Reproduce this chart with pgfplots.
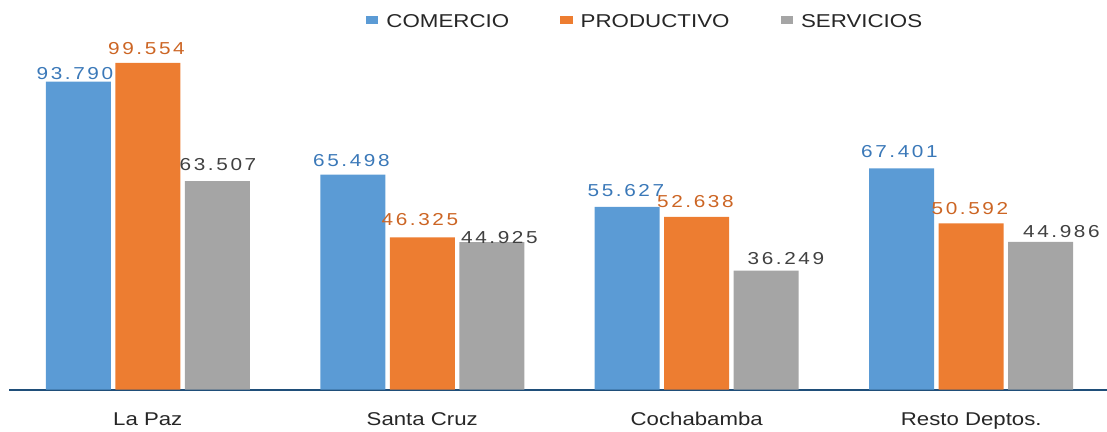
\documentclass[border=0pt]{standalone}
\usepackage{pgfplots}
\pgfplotsset{compat=1.18}
\usepackage{pgfplotstable}
\usepackage{fontspec}
\setmainfont{Liberation Sans}[FakeStretch=1.2]
\newfontfamily\lblfont{Liberation Sans}[FakeStretch=1.2,LetterSpace=15]
\definecolor{cblue}{HTML}{5B9BD5}
\definecolor{corange}{HTML}{ED7D31}
\definecolor{cgray}{HTML}{A5A5A5}
\definecolor{lblue}{HTML}{3A78B8}
\definecolor{lorange}{HTML}{CC6524}
\definecolor{lgray}{HTML}{404040}
\definecolor{axblue}{HTML}{1F4E79}
\definecolor{txt}{HTML}{262626}

\pgfplotstableread{
x y lab dx dy
0 93.790 93.790 -2 2
1 65.498 65.498 0 7.5
2 55.627 55.627 0 10
3 67.401 67.401 -1 10
}\comercio
\pgfplotstableread{
x y lab dx dy
0 99.554 99.554 0 8
1 46.325 46.325 -1 12
2 52.638 52.638 0 9
3 50.592 50.592 0 9
}\productivo
\pgfplotstableread{
x y lab dx dy
0 63.507 63.507 2 10
1 44.925 44.925 9 -2
2 36.249 36.249 21 6
3 44.986 44.986 22 4
}\servicios

\begin{document}
\begin{tikzpicture}
\useasboundingbox (-9pt,-41.5pt) rectangle (1098pt,389.5pt);
\begin{axis}[
  scale only axis,
  width=1098pt, height=389.5pt,
  at={(0,0)}, anchor=south west,
  ybar=4.5pt, bar width=65pt,
  xmin=-0.5055, xmax=3.4945,
  ymin=0, ymax=118.7,
  enlargelimits=false,
  clip=false,
  axis x line=bottom,
  axis y line=none,
  axis line style={-, draw=axblue, line width=2pt},
  xtick={0,1,2,3},
  xticklabels={La Paz, Santa Cruz, Cochabamba, Resto Deptos.},
  xtick style={draw=none},
  ytick=\empty,
  xticklabel style={anchor=base, yshift=-34pt, inner sep=0pt, text=txt, font=\fontsize{18.5}{20}\selectfont},
  legend columns=3,
  legend style={draw=none, fill=none, inner sep=0pt, outer sep=0pt,
    at={(rel axis cs:0.3251,0.9633)}, anchor=north west,
    font=\fontsize{18.6}{20}\selectfont, text=txt,
    nodes={inner sep=0pt, text height=13pt, text depth=0pt},
    /tikz/every odd column/.append style={column sep=8pt},
    /tikz/every even column/.append style={column sep=51pt}},
  legend image code/.code={\fill[#1] (0pt,-2.9pt) rectangle (12.5pt,5.1pt);},
  nodes near coords,
  point meta=explicit symbolic,
  visualization depends on={\thisrow{dx}-1.3 \as \dx},
  visualization depends on={\thisrow{dy} \as \dy},
  nodes near coords style={anchor=south, inner sep=0pt, xshift=\dx pt, yshift=\dy pt, font=\lblfont\fontsize{17.3}{19}\selectfont},
]
\addplot[fill=cblue, draw=none, nodes near coords style={text=lblue}] table[x=x, y=y, meta=lab] {\comercio};
\addplot[fill=corange, draw=none, nodes near coords style={text=lorange}] table[x=x, y=y, meta=lab] {\productivo};
\addplot[fill=cgray, draw=none, nodes near coords style={text=lgray}] table[x=x, y=y, meta=lab] {\servicios};
\legend{COMERCIO, PRODUCTIVO, SERVICIOS}
\end{axis}
\end{tikzpicture}
\end{document}
